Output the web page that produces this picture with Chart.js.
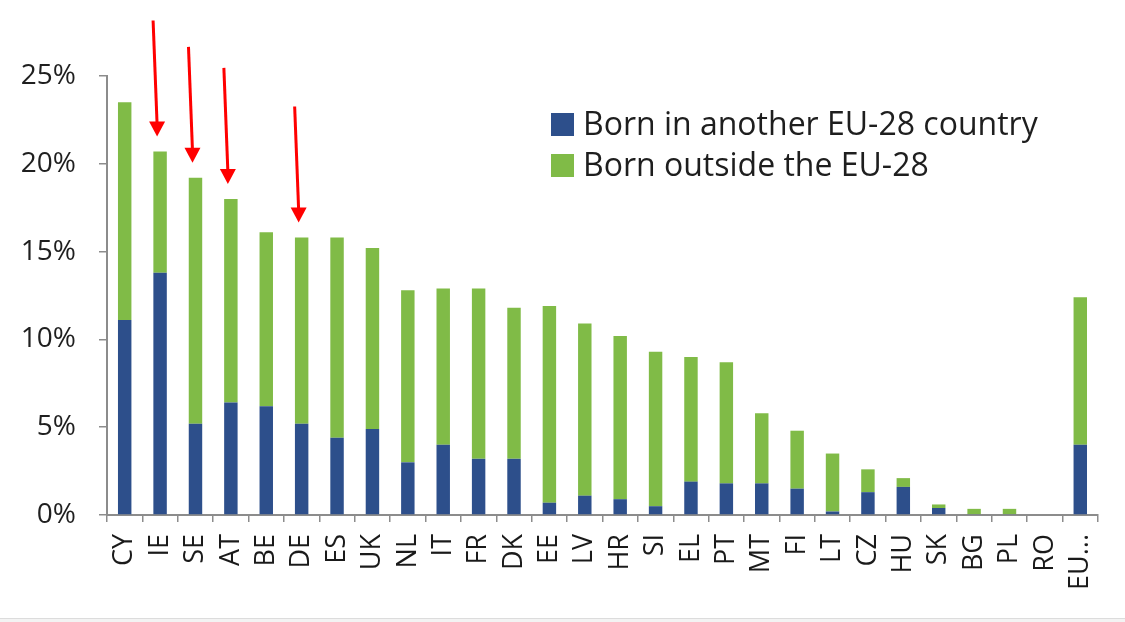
<!DOCTYPE html>
<html>
<head>
<meta charset="utf-8">
<script src="https://cdn.jsdelivr.net/npm/chart.js@4.4.1/dist/chart.umd.min.js"></script>
<style>
    html, body { margin: 0; padding: 0; background: #fff; }
    #wrap { position: relative; width: 1125px; height: 618px; border-bottom: 1px solid #dcdcdc; }
    #foot { height: 3px; background: #f3f3f3; }
</style>
</head>
<body>
<div id="wrap"><canvas id="chart" width="1125" height="618"></canvas></div>
<div id="foot"></div>
<script>
const categories = ["CY","IE","SE","AT","BE","DE","ES","UK","NL","IT","FR","DK","EE","LV","HR","SI","EL","PT","MT","FI","LT","CZ","HU","SK","BG","PL","RO","EU..."];
const bornInEU = [11.1, 13.8, 5.2, 6.4, 6.2, 5.2, 4.4, 4.9, 3.0, 4.0, 3.2, 3.2, 0.7, 1.1, 0.9, 0.5, 1.9, 1.8, 1.8, 1.5, 0.2, 1.3, 1.6, 0.4, 0.05, 0.05, 0, 4.0];
const bornOutside = [12.4, 6.9, 14.0, 11.6, 9.9, 10.6, 11.4, 10.3, 9.8, 8.9, 9.7, 8.6, 11.2, 9.8, 9.3, 8.8, 7.1, 6.9, 4.0, 3.3, 3.3, 1.3, 0.5, 0.2, 0.3, 0.3, 0, 8.4];
const yTicks = [0, 5, 10, 15, 20, 25];
const highlighted = ["IE","SE","AT","DE"];

const FONT = "'Open Sans', sans-serif";
const axisGray = "#8c8c8c";

// red arrows pointing down at the highlighted bars
const arrowPlugin = {
    id: "arrows",
    afterDatasetsDraw(chart) {
        const ctx = chart.ctx;
        const x = chart.scales.x, y = chart.scales.y;
        ctx.save();
        ctx.strokeStyle = "#ff0000";
        ctx.fillStyle = "#ff0000";
        ctx.lineWidth = 3;
        highlighted.forEach(c => {
            const i = categories.indexOf(c);
            const tipX = x.getPixelForValue(i) - 3;
            const tipY = y.getPixelForValue(bornInEU[i] + bornOutside[i]) - 15;
            const tailX = tipX - 4, tailY = tipY - 116;
            ctx.beginPath();
            ctx.moveTo(tailX, tailY);
            ctx.lineTo(tipX, tipY - 12);
            ctx.stroke();
            ctx.beginPath();
            ctx.moveTo(tipX - 8, tipY - 15);
            ctx.lineTo(tipX + 8, tipY - 15);
            ctx.lineTo(tipX, tipY);
            ctx.closePath();
            ctx.fill();
        });
        ctx.restore();
    }
};

// legend drawn in the upper right of the plot
const legendPlugin = {
    id: "boxLegend",
    afterDraw(chart) {
        const ctx = chart.ctx;
        ctx.save();
        ctx.font = "32px " + FONT;
        ctx.textBaseline = "middle";
        chart.data.datasets.forEach((ds, k) => {
            const cy = 125 + k * 41;
            ctx.fillStyle = ds.backgroundColor;
            ctx.fillRect(551, cy - 12, 23, 23);
            ctx.fillStyle = "#1e1e1e";
            ctx.fillText(ds.label, 583, cy + 1);
        });
        ctx.restore();
    }
};

new Chart(document.getElementById("chart"), {
    type: "bar",
    data: {
        labels: categories,
        datasets: [
            { label: "Born in another EU-28 country", data: bornInEU, backgroundColor: "#2d4f8b" },
            { label: "Born outside the EU-28", data: bornOutside, backgroundColor: "#80bb47" }
        ]
    },
    options: {
        responsive: false,
        animation: false,
        events: [],
        layout: { padding: { top: 76, right: 18, left: 0, bottom: 0 } },
        datasets: { bar: { categoryPercentage: 1, barPercentage: 0.38 } },
        plugins: { legend: { display: false }, tooltip: { enabled: false } },
        scales: {
            x: {
                stacked: true,
                afterFit(s) { s.height = 103; },
                border: { display: true, color: axisGray, width: 2 },
                grid: { display: true, drawOnChartArea: false, drawTicks: true, tickLength: 7, color: axisGray, lineWidth: 1.5, offset: true },
                ticks: { color: "#1a1a1a", font: { family: FONT, size: 27 }, minRotation: 90, maxRotation: 90, padding: 12, autoSkip: false }
            },
            y: {
                stacked: true,
                min: 0, max: 25,
                afterFit(s) { s.width = 107; },
                afterBuildTicks(s) { s.ticks = yTicks.map(v => ({ value: v })); },
                border: { display: true, color: axisGray, width: 2 },
                grid: { display: true, drawOnChartArea: false, drawTicks: true, tickLength: 8, color: axisGray, lineWidth: 1.5 },
                ticks: { color: "#1f1f1f", font: { family: FONT, size: 28 }, padding: 23, callback: v => v + "%" }
            }
        }
    },
    plugins: [arrowPlugin, legendPlugin]
});
</script>
</body>
</html>
